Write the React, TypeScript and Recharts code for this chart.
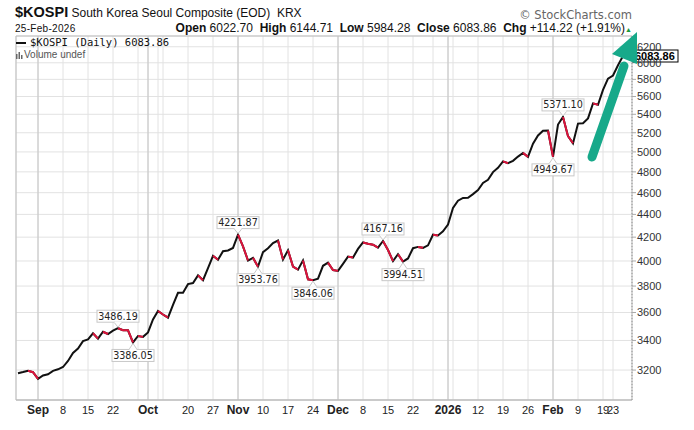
import React from "react";
import {
  LineChart,
  Line,
  XAxis,
  YAxis,
  CartesianGrid,
  ReferenceLine,
  ReferenceDot,
  ReferenceArea,
} from "recharts";

// trading days shown on the chart
const dates = [
  "2025-08-26", "2025-08-27", "2025-08-28", "2025-08-29",
  "2025-09-01", "2025-09-02", "2025-09-03", "2025-09-04", "2025-09-05",
  "2025-09-08", "2025-09-09", "2025-09-10", "2025-09-11", "2025-09-12",
  "2025-09-15", "2025-09-16", "2025-09-17", "2025-09-18", "2025-09-19",
  "2025-09-22", "2025-09-23", "2025-09-24", "2025-09-25", "2025-09-26",
  "2025-09-29", "2025-09-30",
  "2025-10-01", "2025-10-02", "2025-10-10",
  "2025-10-13", "2025-10-14", "2025-10-15", "2025-10-16", "2025-10-17",
  "2025-10-20", "2025-10-21", "2025-10-22", "2025-10-23", "2025-10-24",
  "2025-10-27", "2025-10-28", "2025-10-29", "2025-10-30", "2025-10-31",
  "2025-11-03", "2025-11-04", "2025-11-05", "2025-11-06", "2025-11-07",
  "2025-11-10", "2025-11-11", "2025-11-12", "2025-11-13", "2025-11-14",
  "2025-11-17", "2025-11-18", "2025-11-19", "2025-11-20", "2025-11-21",
  "2025-11-24", "2025-11-25", "2025-11-26", "2025-11-27", "2025-11-28",
  "2025-12-01", "2025-12-02", "2025-12-03", "2025-12-04", "2025-12-05",
  "2025-12-08", "2025-12-09", "2025-12-10", "2025-12-11", "2025-12-12",
  "2025-12-15", "2025-12-16", "2025-12-17", "2025-12-18", "2025-12-19",
  "2025-12-22", "2025-12-23", "2025-12-24", "2025-12-26",
  "2025-12-29", "2025-12-30", "2025-12-31",
  "2026-01-02",
  "2026-01-05", "2026-01-06", "2026-01-07", "2026-01-08", "2026-01-09",
  "2026-01-12", "2026-01-13", "2026-01-14", "2026-01-15", "2026-01-16",
  "2026-01-19", "2026-01-20", "2026-01-21", "2026-01-22", "2026-01-23",
  "2026-01-26", "2026-01-27", "2026-01-28", "2026-01-29", "2026-01-30",
  "2026-02-02", "2026-02-03", "2026-02-04", "2026-02-05", "2026-02-06",
  "2026-02-09", "2026-02-10", "2026-02-11", "2026-02-12", "2026-02-13",
  "2026-02-19", "2026-02-20",
  "2026-02-23", "2026-02-24", "2026-02-25",
];

const closes = [
  3179, 3187, 3196, 3186,
  3143, 3165, 3173, 3195, 3205,
  3220, 3260, 3314, 3344, 3395,
  3407, 3450, 3413, 3461, 3445,
  3469, 3486.19, 3472, 3471, 3386.05,
  3431, 3425,
  3456, 3549, 3611,
  3585, 3562, 3657, 3748, 3749,
  3815, 3824, 3884, 3846, 3942,
  4043, 4010, 4081, 4087, 4108,
  4221.87, 4122, 4004, 4026, 3953.76,
  4073, 4106, 4150, 4171, 4012,
  4089, 3954, 3930, 4005, 3853,
  3846.06, 3858, 3961, 3987, 3927,
  3920, 3977, 4036, 4028, 4100,
  4155, 4144, 4136, 4111, 4167.16,
  4091, 3999, 4056, 3994.51, 4021,
  4106, 4117, 4109, 4130,
  4221, 4214, 4250,
  4309.63,
  4457.52, 4525.48, 4551.06, 4552.37, 4586.32,
  4624.79, 4692.64, 4723.1, 4797.55, 4840.74,
  4904.66, 4885.75, 4909.93, 4952.53, 4990.07,
  4949.59, 5084.85, 5170.81, 5221.25, 5224.36,
  4949.67, 5288.08, 5371.1, 5163.57, 5089.14,
  5298.04, 5301.69, 5354.49, 5522.27, 5507.01,
  5677.25, 5808.53,
  5846.09, 5969.64, 6083.86,
];

// x axis: first trading day of each week (+ month starts)
const tickDates = [
  "2025-09-01", "2025-09-08", "2025-09-15", "2025-09-22", "2025-09-29",
  "2025-10-01", "2025-10-10", "2025-10-13", "2025-10-20", "2025-10-27",
  "2025-11-03", "2025-11-10", "2025-11-17", "2025-11-24",
  "2025-12-01", "2025-12-08", "2025-12-15", "2025-12-22", "2025-12-29",
  "2026-01-02", "2026-01-05", "2026-01-12", "2026-01-19", "2026-01-26",
  "2026-02-02", "2026-02-09", "2026-02-19", "2026-02-23",
];
const tickLabels = [
  "Sep", "8", "15", "22", "",
  "Oct", "", "", "20", "27",
  "Nov", "10", "17", "24",
  "Dec", "8", "15", "22", "",
  "2026", "", "12", "19", "26",
  "Feb", "9", "19", "23",
];
const boldLabels = ["Sep", "Oct", "Nov", "Dec", "2026", "Feb"];
const monthDates = ["2025-09-01", "2025-10-01", "2025-11-03", "2025-12-01", "2026-01-02", "2026-02-02"];

const yTicks = [3200, 3400, 3600, 3800, 4000, 4200, 4400, 4600, 4800, 5000, 5200, 5400, 5600, 5800, 6000, 6200];

// annotated swing highs / lows
const calloutDates = ["2025-09-23", "2025-09-26", "2025-11-03", "2025-11-07", "2025-11-24", "2025-12-12", "2025-12-18", "2026-02-02", "2026-02-04"];
const calloutSides = ["up", "down", "up", "down", "down", "up", "down", "down", "up"];

// split falling segments into two alternating series so they never join up
const downA: (number | null)[] = closes.map(() => null);
const downB: (number | null)[] = closes.map(() => null);
let run = -1;
let prevDown = false;
for (let i = 1; i < closes.length; i++) {
  const down = closes[i] < closes[i - 1];
  if (down) {
    if (!prevDown) run++;
    const arr = run % 2 === 0 ? downA : downB;
    arr[i - 1] = closes[i - 1];
    arr[i] = closes[i];
  }
  prevDown = down;
}

const data = dates.map((d, p) => ({ p, close: closes[p], downA: downA[p], downB: downB[p] }));
const pos = (d: string) => dates.indexOf(d);
const last = closes.length - 1;

const XTick = (props: any) => {
  const i = tickDates.map(pos).indexOf(props.payload.value);
  const label = i >= 0 ? tickLabels[i] : "";
  const bold = boldLabels.includes(label);
  return (
    <text
      x={props.x}
      y={props.y + 12}
      textAnchor="middle"
      fontFamily="Liberation Sans, Arial"
      fontSize={bold ? 12 : 11}
      fontWeight={bold ? "bold" : "normal"}
      fill="#222"
    >
      {label}
    </text>
  );
};

const Callout = ({ cx, cy, text, side }: any) => {
  const w = 42;
  const h = 12;
  const up = side === "up";
  const boxY = up ? cy - 6 - h : cy + 7;
  const edge = up ? boxY + h : boxY;
  const tip = up ? cy - 1 : cy + 1;
  return (
    <g>
      <rect x={cx - w / 2} y={boxY} width={w} height={h} fill="#fff" stroke="#c8c8c8" />
      <polygon points={`${cx - 4},${edge} ${cx},${tip} ${cx + 4},${edge}`} fill="#fff" stroke="#c8c8c8" />
      <line x1={cx - 3.5} y1={edge} x2={cx + 3.5} y2={edge} stroke="#fff" strokeWidth={1.5} />
      <text x={cx} y={boxY + h - 2.5} textAnchor="middle" fontFamily="DejaVu Sans" fontSize={9.6} fill="#222">
        {text}
      </text>
    </g>
  );
};

const PriceTag = ({ cx, cy }: any) => (
  <g>
    <rect x={cx + 10} y={cy - 6} width={45} height={12} fill="#fff" stroke="#000" />
    <text x={cx + 12} y={cy + 4} fontFamily="Liberation Sans, Arial" fontWeight="bold" fontSize={11} fill="#000">
      {closes[last].toFixed(2)}
    </text>
  </g>
);

export default function App() {
  return (
    <div
      style={{
        position: "absolute",
        left: 0,
        top: 0,
        width: 694,
        height: 430,
        background: "#fff",
        fontFamily: "Liberation Sans, Arial, sans-serif",
        color: "#111",
      }}
    >
      <LineChart width={694} height={430} data={data} margin={{ top: 36, right: 0, bottom: 0, left: 16 }}>
        <CartesianGrid stroke="#e2e2e2" />
        {monthDates.map((d) => (
          <ReferenceLine key={d} x={pos(d)} stroke="#c4c4c4" />
        ))}
        <ReferenceArea x1={-0.4} x2={122.8} y1={3010} y2={6338} fill="none" stroke="#bdbdbd" />
        <XAxis
          dataKey="p"
          type="number"
          domain={[-0.4, 122.8]}
          allowDataOverflow
          ticks={tickDates.map(pos)}
          interval={0}
          tick={<XTick />}
          tickLine={false}
          tickSize={0}
          height={30}
          axisLine={{ stroke: "#bdbdbd" }}
        />
        <YAxis
          orientation="right"
          scale="log"
          domain={[3010, 6338]}
          allowDataOverflow
          ticks={yTicks}
          interval={0}
          width={62}
          tickSize={4}
          tickMargin={1}
          tick={{ fontSize: 11, fill: "#333", fontFamily: "Liberation Sans, Arial" }}
          tickLine={{ stroke: "#aaa" }}
          axisLine={{ stroke: "#999", strokeDasharray: "1 2" }}
        />
        <Line type="linear" dataKey="close" stroke="#111" strokeWidth={2} dot={false} isAnimationActive={false} />
        <Line type="linear" dataKey="downA" stroke="#dc143c" strokeWidth={2} dot={false} isAnimationActive={false} />
        <Line type="linear" dataKey="downB" stroke="#dc143c" strokeWidth={2} dot={false} isAnimationActive={false} />
        {calloutDates.map((d, i) => (
          <ReferenceDot
            key={d}
            x={pos(d)}
            y={closes[pos(d)]}
            r={0}
            ifOverflow="visible"
            shape={(props: any) => (
              <Callout cx={props.cx} cy={props.cy} text={closes[pos(d)].toFixed(2)} side={calloutSides[i]} />
            )}
          />
        ))}
        <ReferenceDot
          x={last}
          y={closes[last]}
          r={0}
          ifOverflow="visible"
          shape={(props: any) => <PriceTag cx={props.cx} cy={props.cy} />}
        />
      </LineChart>

      {/* header */}
      <div style={{ position: "absolute", left: 15, top: 4, whiteSpace: "nowrap", fontSize: 12 }}>
        <span style={{ fontWeight: "bold", fontSize: 14.5 }}>$KOSPI</span> South Korea Seoul Composite (EOD)&nbsp; KRX
      </div>
      <div style={{ position: "absolute", left: 15, top: 23, fontSize: 10, letterSpacing: 0.3 }}>25-Feb-2026</div>
      <div style={{ position: "absolute", right: 694 - 625, top: 21, fontSize: 12, whiteSpace: "nowrap" }}>
        <b>Open</b> 6022.70&nbsp; <b>High</b> 6144.71&nbsp; <b>Low</b> 5984.28&nbsp; <b>Close</b> 6083.86&nbsp;{" "}
        <b>Chg</b> +114.22 (+1.91%)
      </div>
      <div style={{ position: "absolute", left: 625, top: 26, fontSize: 7, color: "#1a9a3a" }}>▲</div>
      <div style={{ position: "absolute", right: 694 - 632, top: 8, fontSize: 11.5, color: "#666", fontFamily: "DejaVu Sans", whiteSpace: "nowrap" }}>
        © StockCharts.com
      </div>

      {/* legend */}
      <div style={{ position: "absolute", left: 16, top: 42, width: 10, height: 2, background: "#111" }} />
      <div style={{ position: "absolute", left: 30, top: 36, fontSize: 10.5, fontFamily: "DejaVu Sans Mono", whiteSpace: "nowrap" }}>
        $KOSPI (Daily) 6083.86
      </div>
      <svg style={{ position: "absolute", left: 16, top: 51 }} width={8} height={8}>
        <rect x={0} y={3} width={1.5} height={5} fill="#666" />
        <rect x={2.5} y={1} width={1.5} height={7} fill="#666" />
        <rect x={5} y={4} width={1.5} height={4} fill="#666" />
      </svg>
      <div style={{ position: "absolute", left: 24, top: 49, fontSize: 10, color: "#555", whiteSpace: "nowrap" }}>
        Volume undef
      </div>

      {/* hand-drawn arrow */}
      <svg style={{ position: "absolute", left: 0, top: 0, pointerEvents: "none" }} width={694} height={430}>
        <line x1={592} y1={157} x2={624} y2={66} stroke="#17a98a" strokeWidth={9} strokeLinecap="round" />
        <polygon points="637,32 612,54 637,64" fill="#17a98a" />
      </svg>
    </div>
  );
}
